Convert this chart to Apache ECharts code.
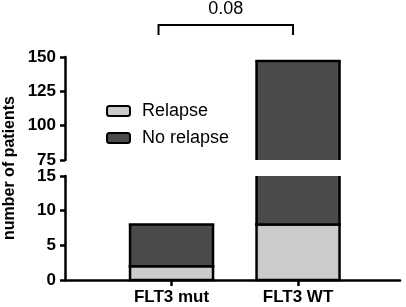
<!DOCTYPE html>
<html><head><meta charset="utf-8">
<script src="https://cdn.jsdelivr.net/npm/echarts@6/dist/echarts.min.js"></script>
<style>html,body{margin:0;padding:0;background:#fff}#c{width:406px;height:307px}</style>
</head><body><div id="c"></div>
<script>
var categories = ['FLT3 mut', 'FLT3 WT'];
var relapse = [2, 8];
var noRelapse = [6, 139];
var upperTicks = [75, 100, 125, 150];
var lowerTicks = [0, 5, 10, 15];
var pValue = '0.08';

var chart = echarts.init(document.getElementById('c'));
var FONT = "'Liberation Sans', Arial, Helvetica, sans-serif";
var LW = 2.5;

function segData(base, vals) {
  return vals.map(function (v, i) { var b = base ? base[i] : 0; return [i, b, b + v]; });
}
var relData = segData(null, relapse);
var noRelData = segData(relapse, noRelapse);

function renderSeg(params, api) {
  var cs = params.coordSys;
  var x = api.value(0);
  var p0 = api.coord([x, api.value(1)]);
  var p1 = api.coord([x, api.value(2)]);
  var w = api.size([1, 0])[0] * 0.656;
  var top = Math.max(p1[1], cs.y), bot = Math.min(p0[1], cs.y + cs.height);
  if (top >= bot) return null;
  var l = p0[0] - w / 2, r = p0[0] + w / 2;
  var kids = [{type: 'rect', shape: {x: l, y: top, width: w, height: bot - top}, style: {fill: api.visual('color')}}];
  var ls = {stroke: '#000', lineWidth: LW};
  kids.push({type: 'line', shape: {x1: l, y1: top, x2: l, y2: bot}, style: ls});
  kids.push({type: 'line', shape: {x1: r, y1: top, x2: r, y2: bot}, style: ls});
  if (p1[1] >= cs.y) kids.push({type: 'line', shape: {x1: l - LW / 2, y1: top, x2: r + LW / 2, y2: top}, style: ls});
  if (p0[1] <= cs.y + cs.height) kids.push({type: 'line', shape: {x1: l - LW / 2, y1: bot, x2: r + LW / 2, y2: bot}, style: ls});
  return {type: 'group', children: kids};
}

var xMin = -0.842, xMax = 1.806;
function xAxis(gi, show) {
  return {
    type: 'value', gridIndex: gi, min: xMin, max: xMax,
    splitLine: {show: false},
    axisLine: {show: show, onZero: false, lineStyle: {color: '#000', width: LW}},
    axisTick: {show: show, customValues: [0, 1], length: 6, lineStyle: {color: '#000', width: LW}},
    axisLabel: {show: show, customValues: [0, 1], margin: 9,
      formatter: function (v) { return categories[Math.round(v)]; },
      color: '#000', fontWeight: 'bold', fontSize: 17, fontFamily: FONT}
  };
}
function yAxis(gi, mn, mx, iv) {
  return {
    type: 'value', gridIndex: gi, min: mn, max: mx, interval: iv,
    splitLine: {show: false},
    axisLine: {show: true, onZero: false, lineStyle: {color: '#000', width: LW}},
    axisTick: {show: true, length: 5, lineStyle: {color: '#000', width: LW}},
    axisLabel: {margin: 9, color: '#000', fontWeight: 'bold', fontSize: 17, fontFamily: FONT}
  };
}
var series = [];
[0, 1].forEach(function (gi) {
  series.push({type: 'custom', name: 'Relapse', xAxisIndex: gi, yAxisIndex: gi, renderItem: renderSeg,
    itemStyle: {color: '#cbcbcb', borderColor: '#000', borderWidth: 2}, encode: {x: 0, y: [1, 2]}, data: relData});
  series.push({type: 'custom', name: 'No relapse', xAxisIndex: gi, yAxisIndex: gi, renderItem: renderSeg,
    itemStyle: {color: '#4b4b4b', borderColor: '#000', borderWidth: 2}, encode: {x: 0, y: [1, 2]}, data: noRelData});
});

chart.setOption({
  animation: false,
  grid: [
    {left: 65, right: 6, top: 57, height: 103},
    {left: 65, right: 6, top: 176, height: 104}
  ],
  xAxis: [xAxis(0, false), xAxis(1, true)],
  yAxis: [yAxis(0, upperTicks[0], upperTicks[upperTicks.length - 1], 25), yAxis(1, lowerTicks[0], lowerTicks[lowerTicks.length - 1], 5)],
  legend: {
    orient: 'vertical', left: 101, top: 97, itemWidth: 23, itemHeight: 10, itemGap: 9,
    data: ['Relapse', 'No relapse'],
    textStyle: {color: '#000', fontSize: 18, fontFamily: FONT, padding: [0, 0, 0, 7]}
  },
  series: series
});

// significance bracket positioned from the axis scale
var pa = chart.convertToPixel({xAxisIndex: 1}, 0);
var pb = chart.convertToPixel({xAxisIndex: 1}, 1);
var bl = pa - 13, br = pb - 5;
chart.setOption({graphic: [
  {type: 'text', rotation: Math.PI / 2, x: 10, y: 168,
    style: {text: 'number of patients', fill: '#000', font: 'bold 16px ' + FONT, align: 'center', verticalAlign: 'middle'}},
  {type: 'polyline', shape: {points: [[bl, 35], [bl, 25], [br, 25], [br, 35]]}, style: {stroke: '#000', lineWidth: 2, fill: null}},
  {type: 'text', x: (bl + br) / 2, y: 9, style: {text: pValue, fill: '#000', font: '18px ' + FONT, align: 'center', verticalAlign: 'middle'}}
]});
</script></body></html>
